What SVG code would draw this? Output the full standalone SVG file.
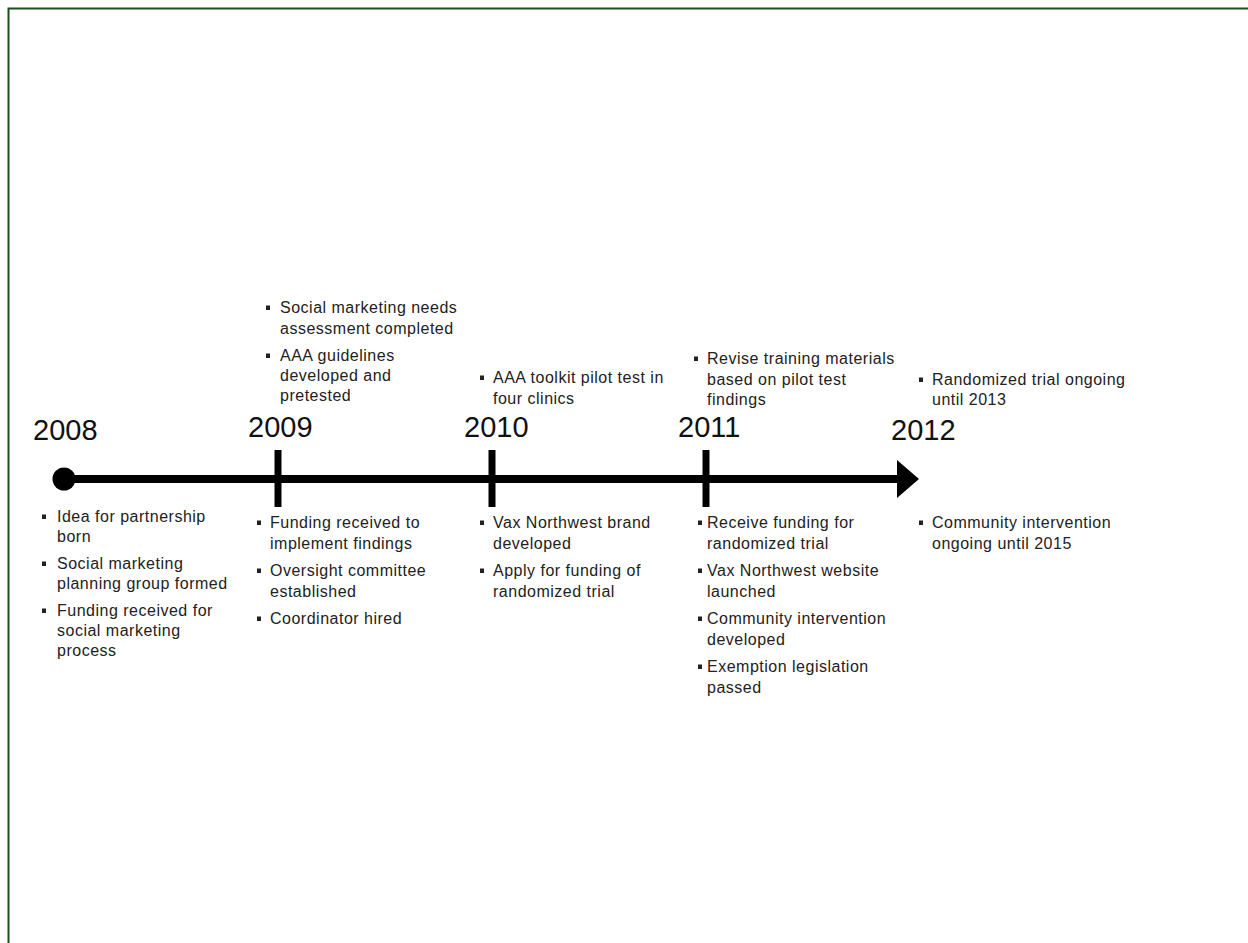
<svg xmlns="http://www.w3.org/2000/svg" width="1248" height="943" viewBox="0 0 1248 943">
<style>
.t{font-family:"Liberation Sans",Arial,sans-serif;font-size:16px;letter-spacing:0.5px;fill:#222}
.y{font-family:"Liberation Sans",Arial,sans-serif;font-size:29px;fill:#111}
.b{fill:#222}
</style>
<defs>
<rect id="bul" class="b" x="0" y="-7.5" width="4" height="4.5"/>
</defs>
<rect x="0" y="0" width="1248" height="943" fill="#fff"/>
<path d="M8.5,943 V8.5 H1248" fill="none" stroke="#1d4d1d" stroke-width="2"/>
<g id="connectors">
<line x1="64" y1="479" x2="900" y2="479" stroke="#000" stroke-width="8"/>
<circle cx="64" cy="479" r="11.5" fill="#000"/>
<line x1="278" y1="450" x2="278" y2="507" stroke="#000" stroke-width="7"/>
<line x1="492" y1="450" x2="492" y2="507" stroke="#000" stroke-width="7"/>
<line x1="706" y1="450" x2="706" y2="507" stroke="#000" stroke-width="7"/>
<polygon points="897,460 919,479 897,498" fill="#000"/>
</g>
<g id="y2008">
<text class="y" x="33" y="440">2008</text>
<use href="#bul" x="42" y="522"/><text class="t" x="57" y="522">Idea for partnership</text>
<text class="t" x="57" y="542">born</text>
<use href="#bul" x="42" y="569"/><text class="t" x="57" y="569">Social marketing</text>
<text class="t" x="57" y="589">planning group formed</text>
<use href="#bul" x="42" y="616"/><text class="t" x="57" y="616">Funding received for</text>
<text class="t" x="57" y="636">social marketing</text>
<text class="t" x="57" y="656">process</text>
</g>
<g id="y2009">
<use href="#bul" x="266" y="313"/><text class="t" x="280" y="313">Social marketing needs</text>
<text class="t" x="280" y="334">assessment completed</text>
<use href="#bul" x="266" y="361"/><text class="t" x="280" y="361">AAA guidelines</text>
<text class="t" x="280" y="381">developed and</text>
<text class="t" x="280" y="401">pretested</text>
<text class="y" x="248" y="437">2009</text>
<use href="#bul" x="257" y="528"/><text class="t" x="270" y="528">Funding received to</text>
<text class="t" x="270" y="549">implement findings</text>
<use href="#bul" x="257" y="576"/><text class="t" x="270" y="576">Oversight committee</text>
<text class="t" x="270" y="597">established</text>
<use href="#bul" x="257" y="624"/><text class="t" x="270" y="624">Coordinator hired</text>
</g>
<g id="y2010">
<use href="#bul" x="480" y="383"/><text class="t" x="493" y="383">AAA toolkit pilot test in</text>
<text class="t" x="493" y="404">four clinics</text>
<text class="y" x="464" y="437">2010</text>
<use href="#bul" x="480" y="528"/><text class="t" x="493" y="528">Vax Northwest brand</text>
<text class="t" x="493" y="549">developed</text>
<use href="#bul" x="480" y="576"/><text class="t" x="493" y="576">Apply for funding of</text>
<text class="t" x="493" y="597">randomized trial</text>
</g>
<g id="y2011">
<use href="#bul" x="694" y="364"/><text class="t" x="707" y="364">Revise training materials</text>
<text class="t" x="707" y="385">based on pilot test</text>
<text class="t" x="707" y="405">findings</text>
<text class="y" x="678" y="437">2011</text>
<use href="#bul" x="698" y="528"/><text class="t" x="707" y="528">Receive funding for</text>
<text class="t" x="707" y="549">randomized trial</text>
<use href="#bul" x="698" y="576"/><text class="t" x="707" y="576">Vax Northwest website</text>
<text class="t" x="707" y="597">launched</text>
<use href="#bul" x="698" y="624"/><text class="t" x="707" y="624">Community intervention</text>
<text class="t" x="707" y="645">developed</text>
<use href="#bul" x="698" y="672"/><text class="t" x="707" y="672">Exemption legislation</text>
<text class="t" x="707" y="693">passed</text>
</g>
<g id="y2012">
<use href="#bul" x="919" y="385"/><text class="t" x="932" y="385">Randomized trial ongoing</text>
<text class="t" x="932" y="405">until 2013</text>
<text class="y" x="891" y="440">2012</text>
<use href="#bul" x="919" y="528"/><text class="t" x="932" y="528">Community intervention</text>
<text class="t" x="932" y="549">ongoing until 2015</text>
</g>
</svg>
